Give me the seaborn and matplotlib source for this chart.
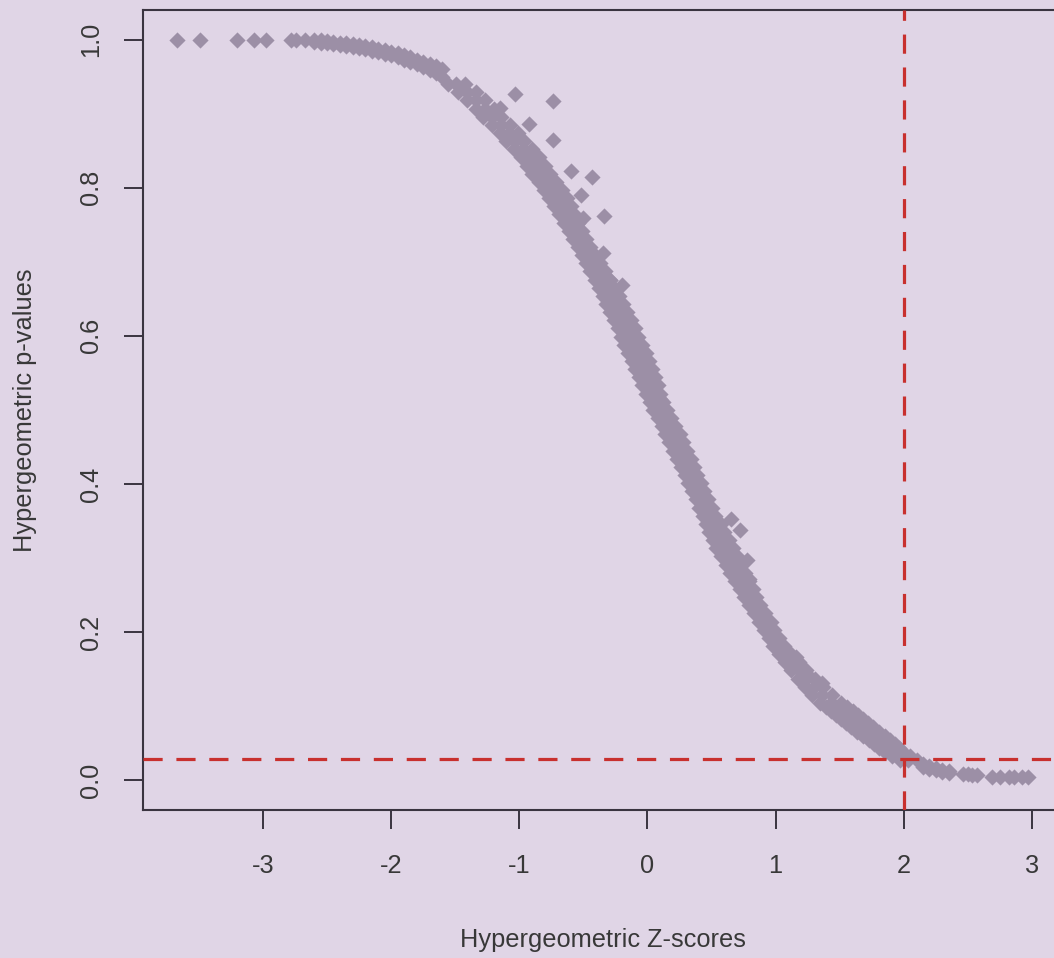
import matplotlib
matplotlib.use("Agg")
import matplotlib.pyplot as plt
import seaborn as sns
import pandas as pd

# ---------------- data ----------------
# isolated points on the far left (p ~ 1)
left_z = [-3.67, -3.49, -3.20, -3.07, -2.98, -2.78, -2.74, -2.67]
left_p = [1.000, 1.000, 1.000, 1.000, 1.000, 0.999, 0.999, 0.999]

# flat upper part of the curve: z with lower / upper edge of the point band
top_z = [-2.60, -2.55, -2.50, -2.45, -2.40, -2.35, -2.30, -2.25, -2.20, -2.15,
         -2.10, -2.05, -2.00, -1.95, -1.90, -1.85, -1.80, -1.75, -1.70, -1.65,
         -1.60]
top_p_low = [0.997, 0.996, 0.995, 0.994, 0.993, 0.992, 0.990, 0.989, 0.987, 0.985,
             0.983, 0.981, 0.979, 0.976, 0.973, 0.970, 0.967, 0.963, 0.959, 0.955,
             0.950]
top_p_high = [0.999, 0.999, 0.998, 0.997, 0.996, 0.995, 0.994, 0.993, 0.991, 0.990,
              0.988, 0.986, 0.984, 0.982, 0.979, 0.976, 0.973, 0.970, 0.967, 0.964,
              0.960]

# steep part of the curve: p levels with left / middle / right z of the band
band_p = [0.940, 0.929, 0.918, 0.907, 0.896, 0.885, 0.874, 0.863, 0.852, 0.841,
          0.830, 0.819, 0.808, 0.797, 0.786, 0.775, 0.764, 0.753, 0.742, 0.731,
          0.720, 0.709, 0.698, 0.687, 0.676, 0.665, 0.654, 0.643, 0.632, 0.621,
          0.610, 0.599, 0.588, 0.577, 0.566, 0.555, 0.544, 0.533, 0.522, 0.511,
          0.500, 0.489, 0.478, 0.467, 0.456, 0.445, 0.434, 0.423, 0.412, 0.401,
          0.390, 0.379, 0.368, 0.357, 0.346, 0.335, 0.324, 0.313, 0.302, 0.291,
          0.280, 0.269, 0.258, 0.247, 0.236, 0.225, 0.214, 0.203, 0.192, 0.181,
          0.170, 0.159, 0.148, 0.137, 0.126, 0.115, 0.104, 0.093, 0.082, 0.071,
          0.060, 0.049, 0.038, 0.027]
band_z_left = [-1.56, -1.48, -1.41, -1.34, -1.28, -1.21, -1.15, -1.10, -1.04, -0.99,
               -0.94, -0.90, -0.85, -0.81, -0.77, -0.73, -0.69, -0.65, -0.61, -0.58,
               -0.545, -0.51, -0.48, -0.445, -0.41, -0.38, -0.35, -0.32, -0.29, -0.26,
               -0.23, -0.205, -0.18, -0.15, -0.12, -0.095, -0.067, -0.04, -0.012, 0.016,
               0.047, 0.08, 0.11, 0.14, 0.17, 0.20, 0.23, 0.26, 0.29, 0.32,
               0.35, 0.38, 0.40, 0.43, 0.46, 0.48, 0.51, 0.535, 0.57, 0.61,
               0.645, 0.68, 0.72, 0.755, 0.79, 0.83, 0.87, 0.91, 0.945, 0.98,
               1.025, 1.07, 1.12, 1.175, 1.23, 1.28, 1.35, 1.43, 1.51, 1.59,
               1.68, 1.77, 1.85, 1.97]
band_z_mid = [-1.49, -1.41, -1.34, -1.27, -1.21, -1.14, -1.08, -1.03, -0.97, -0.92,
              -0.87, -0.83, -0.78, -0.74, -0.70, -0.665, -0.63, -0.595, -0.56, -0.53,
              -0.495, -0.46, -0.425, -0.39, -0.35, -0.32, -0.285, -0.255, -0.225, -0.195,
              -0.165, -0.14, -0.11, -0.08, -0.055, -0.03, -0.005, 0.02, 0.044, 0.07,
              0.10, 0.133, 0.163, 0.195, 0.225, 0.255, 0.285, 0.31, 0.34, 0.37,
              0.395, 0.425, 0.45, 0.48, 0.515, 0.54, 0.575, 0.60, 0.635, 0.67,
              0.70, 0.735, 0.77, 0.80, 0.835, 0.875, 0.915, 0.95, 0.99, 1.02,
              1.07, 1.125, 1.18, 1.24, 1.30, 1.36, 1.43, 1.515, 1.595, 1.675,
              1.765, 1.85, 1.92, 2.035]
band_z_right = [-1.42, -1.34, -1.27, -1.20, -1.14, -1.07, -1.01, -0.96, -0.90, -0.85,
                -0.80, -0.76, -0.71, -0.67, -0.63, -0.60, -0.57, -0.54, -0.51, -0.48,
                -0.445, -0.41, -0.37, -0.33, -0.29, -0.26, -0.22, -0.19, -0.16, -0.13,
                -0.10, -0.07, -0.04, -0.01, 0.01, 0.035, 0.056, 0.08, 0.10, 0.125,
                0.155, 0.186, 0.216, 0.25, 0.28, 0.31, 0.34, 0.36, 0.39, 0.42,
                0.44, 0.47, 0.50, 0.53, 0.57, 0.60, 0.64, 0.67, 0.70, 0.73,
                0.76, 0.79, 0.82, 0.85, 0.88, 0.92, 0.96, 0.99, 1.03, 1.065,
                1.12, 1.18, 1.24, 1.31, 1.37, 1.44, 1.51, 1.60, 1.68, 1.76,
                1.85, 1.93, 1.99, 2.10]

# extra p levels in the shallow lower part, where the band is dense
low_p = [0.0985, 0.0875, 0.0765, 0.0655, 0.0545, 0.0435, 0.0325]
low_z_left = [1.39, 1.47, 1.55, 1.635, 1.725, 1.81, 1.91]
low_z_mid = [1.47, 1.555, 1.635, 1.72, 1.805, 1.885, 1.98]
low_z_right = [1.555, 1.64, 1.72, 1.805, 1.89, 1.96, 2.045]

# flat lower tail
bottom_z = [2.15, 2.20, 2.25, 2.30, 2.35]
bottom_p_low = [0.017, 0.015, 0.013, 0.011, 0.009]
bottom_p_high = [0.021, 0.019, 0.016, 0.014, 0.012]

# isolated points on the far right (p ~ 0)
right_z = [2.46, 2.50, 2.53, 2.57, 2.69, 2.75, 2.82, 2.86, 2.92, 2.97]
right_p = [0.008, 0.008, 0.007, 0.007, 0.004, 0.004, 0.004, 0.004, 0.004, 0.004]

# points lying above the main band
out_z = [-1.03, -0.735, -0.925, -0.735, -0.60, -0.43, -0.52, -0.50, -0.34, -0.29,
         -0.20, -1.15, -0.35, 0.10, 0.65, 0.725, 0.78, 0.79, 1.16, 1.24, 1.36, 1.69]
out_p = [0.927, 0.917, 0.886, 0.864, 0.822, 0.814, 0.790, 0.759, 0.762, 0.676,
         0.668, 0.908, 0.712, 0.515, 0.352, 0.338, 0.297, 0.272, 0.166, 0.145, 0.131, 0.079]

z_cut = 2.0        # vertical threshold line
p_cut = 0.028      # horizontal threshold line

x_ticks = [-3, -2, -1, 0, 1, 2, 3]
y_ticks = [0.0, 0.2, 0.4, 0.6, 0.8, 1.0]
x_title = "Hypergeometric Z-scores"
y_title = "Hypergeometric p-values"

# ---------------- assemble ----------------
zs = (left_z + top_z + top_z + band_z_left + band_z_mid + band_z_right
      + low_z_left + low_z_mid + low_z_right
      + bottom_z + bottom_z + right_z + out_z)
ps = (left_p + top_p_low + top_p_high + band_p + band_p + band_p
      + low_p + low_p + low_p
      + bottom_p_low + bottom_p_high + right_p + out_p)
df = pd.DataFrame({"z": zs, "p": ps})

# ---------------- style ----------------
BG = "#e0d5e6"
PT = "#9c8fa6"
RED = "#c8302e"
INK = "#3a3440"
TXT = "#383838"
FS = 18.3

sns.set_style("ticks")
plt.rcParams["font.family"] = ["Liberation Sans", "DejaVu Sans"]
plt.rcParams["axes.unicode_minus"] = False

W, H = 1054, 958
fig = plt.figure(figsize=(W / 100, H / 100), dpi=100)
fig.patch.set_facecolor(BG)

ax_left, ax_right, ax_top, ax_bottom = 143, 1063.5, 10, 810
ax = fig.add_axes([ax_left / W, (H - ax_bottom) / H,
                   (ax_right - ax_left) / W, (ax_bottom - ax_top) / H])
ax.set_facecolor(BG)

sns.scatterplot(data=df, x="z", y="p", marker="D", s=68, color=PT,
                linewidth=0, ax=ax, legend=False, zorder=2)

dash = (0, (6.0, 4.3))
ax.axvline(z_cut, color=RED, lw=2.3, linestyle=dash, zorder=3)
ax.axhline(p_cut, color=RED, lw=2.3, linestyle=dash, zorder=3)

ax.set_xlim(-3.936, 3.246)
ax.set_ylim(-0.0405, 1.0401)

ax.set_xticks(x_ticks)
ax.set_xticklabels([str(t) for t in x_ticks])
ax.set_yticks(y_ticks)
ax.set_yticklabels([f"{t:.1f}" for t in y_ticks], rotation=90, va="center")

for s in ["left", "top", "bottom", "right"]:
    ax.spines[s].set_color(INK)
    ax.spines[s].set_linewidth(1.5)
    ax.spines[s].set_visible(True)

ax.tick_params(axis="both", colors=INK, labelcolor=TXT, length=14,
               width=1.4, labelsize=FS)
ax.tick_params(axis="x", pad=18)
ax.tick_params(axis="y", pad=15)

ax.set_xlabel("")
ax.set_ylabel("")
fig.text((ax_left + ax_right) / 2 / W, (H - 947) / H, x_title, ha="center",
         va="baseline", fontsize=FS, color=TXT)
fig.text(25 / W, (H - 410) / H, y_title, ha="center", va="center",
         rotation=90, fontsize=FS, color=TXT)

fig.savefig("out.png", dpi=100, facecolor=BG)
